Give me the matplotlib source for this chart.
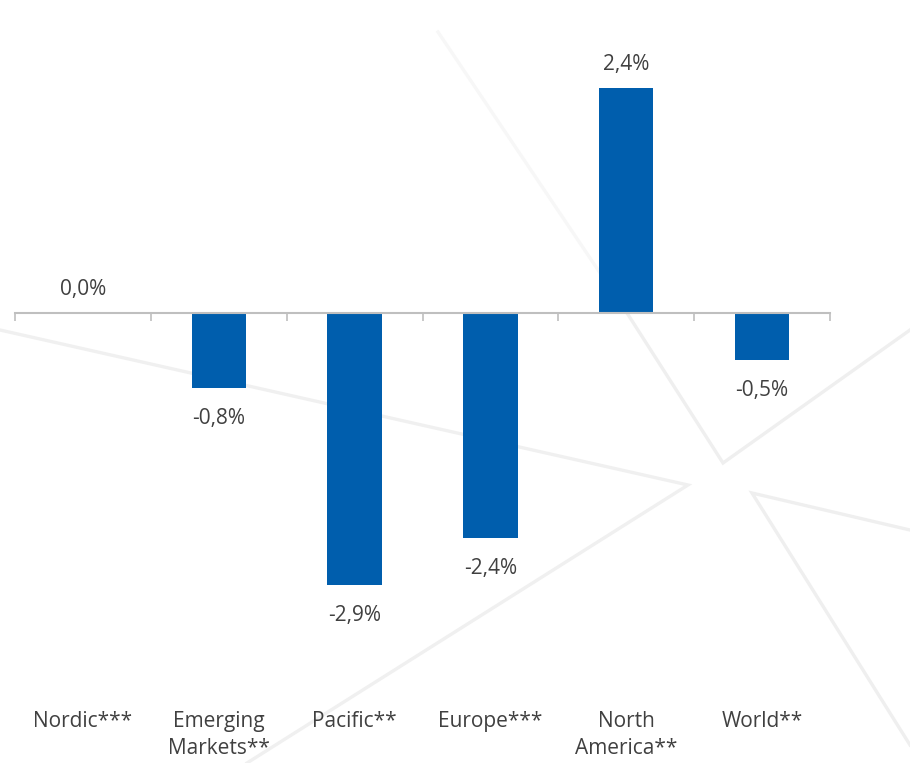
import matplotlib
matplotlib.use("Agg")
import matplotlib.pyplot as plt
from matplotlib.lines import Line2D

plt.rcParams['font.family'] = ['Open Sans', 'DejaVu Sans']

# avkastning per region, procent
regions = ["Nordic***", "Emerging\nMarkets**", "Pacific**", "Europe***",
           "North\nAmerica**", "World**"]
returns = [0.0, -0.8, -2.9, -2.4, 2.4, -0.5]

W, H = 910, 763
bar_color = "#005EAD"
text_color = "#404040"
axis_color = "#BFBFBF"

fig = plt.figure(figsize=(W / 100, H / 100), dpi=100)
fig.patch.set_facecolor("white")

# ljusgrå dekorlinjer i bakgrunden (figurpixlar, y uppifrån)
deco = [
    ([(438, 32), (627, 313)], "#F7F7F7"),
    ([(627, 313), (723, 463), (910, 330)], "#EFEFEF"),
    ([(0, 330), (688, 485), (247, 763)], "#F0F0F0"),
    ([(910, 530), (752, 493), (910, 745)], "#EFEFEF"),
]
for pts, col in deco:
    xs = [p[0] / W for p in pts]
    ys = [1 - p[1] / H for p in pts]
    fig.add_artist(Line2D(xs, ys, transform=fig.transFigure, color=col,
                          lw=2.4, zorder=0, solid_joinstyle="miter"))

ax = fig.add_axes([15 / W, (H - 641) / H, 815 / W, 609 / H])
ax.set_facecolor("none")

x = list(range(len(regions)))
ax.bar(x, returns, width=0.4, color=bar_color, zorder=1)

ax.set_xlim(-0.5, len(regions) - 0.5)
ax.set_ylim(-3.5, 3.0)

for s in ["top", "right", "left"]:
    ax.spines[s].set_visible(False)
ax.spines["bottom"].set_position(("data", 0))
ax.spines["bottom"].set_color(axis_color)
ax.spines["bottom"].set_linewidth(1.5)
ax.set_yticks([])
ax.set_xticks([i - 0.5 for i in range(len(regions) + 1)])
ax.set_xticklabels([])
ax.tick_params(axis="x", direction="out", length=6, width=1.2, color=axis_color)

# värdeetiketter
for xi, v in zip(x, returns):
    lbl = f"{v:.1f}%".replace(".", ",")
    off = 13 if v >= 0 else -26
    ax.annotate(lbl, (xi, v), xytext=(0, off), textcoords="offset points",
                ha="center", va="baseline", fontsize=15, color=text_color)

# kategorinamn under diagrammet
for xi, name in zip(x, regions):
    ax.annotate(name, (xi, H - 711), xycoords=("data", "figure pixels"),
                ha="center", va="top", fontsize=15, color=text_color,
                linespacing=1.35, annotation_clip=False)

fig.savefig("out.png", dpi=100)
